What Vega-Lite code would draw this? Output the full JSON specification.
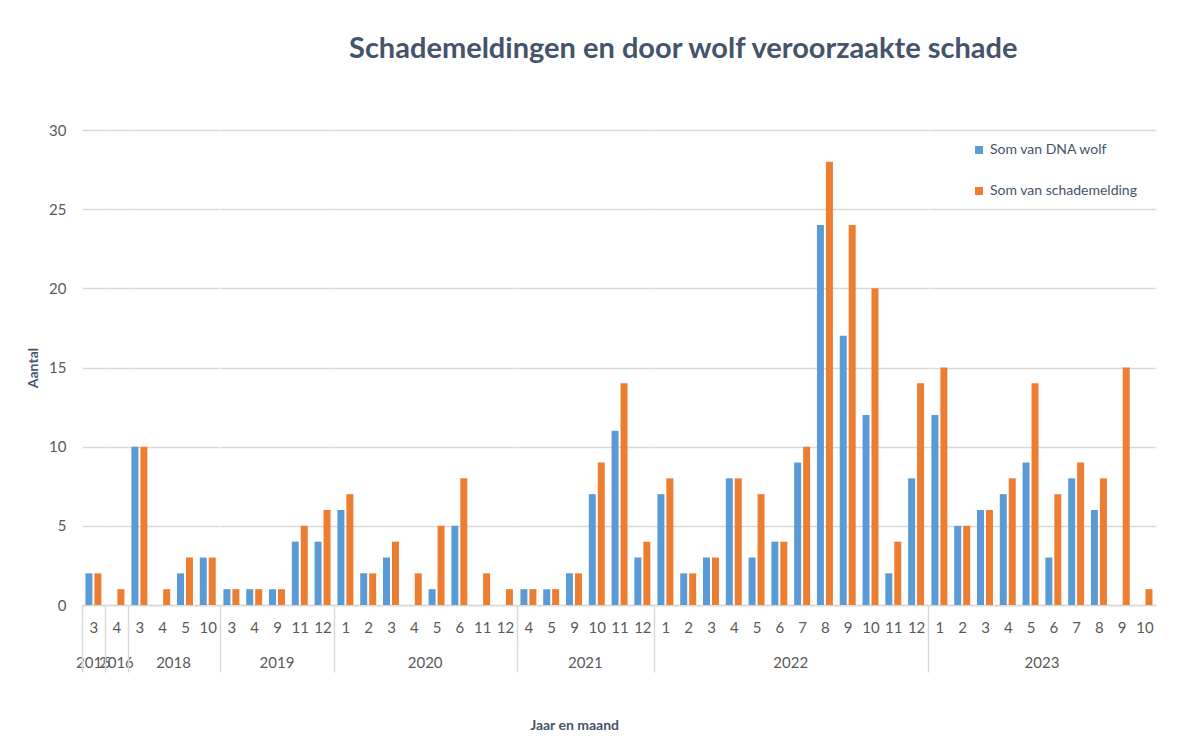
{
  "$schema": "https://vega.github.io/schema/vega-lite/v6.json",
  "background": "white",
  "padding": {"left": 26, "top": 35, "right": 10, "bottom": 0},
  "bounds": "flush",
  "title": {
    "text": "Schademeldingen en door wolf veroorzaakte schade",
    "font": "Lato",
    "fontSize": 29,
    "fontWeight": "bold",
    "color": "#44546A",
    "anchor": "middle",
    "dx": 92,
    "offset": 59
  },
  "data": {
    "values": [
      {"year": "2015", "month": 3, "dna": 2, "schade": 2},
      {"year": "2016", "month": 4, "dna": 0, "schade": 1},
      {"year": "2018", "month": 3, "dna": 10, "schade": 10},
      {"year": "2018", "month": 4, "dna": 0, "schade": 1},
      {"year": "2018", "month": 5, "dna": 2, "schade": 3},
      {"year": "2018", "month": 10, "dna": 3, "schade": 3},
      {"year": "2019", "month": 3, "dna": 1, "schade": 1},
      {"year": "2019", "month": 4, "dna": 1, "schade": 1},
      {"year": "2019", "month": 9, "dna": 1, "schade": 1},
      {"year": "2019", "month": 11, "dna": 4, "schade": 5},
      {"year": "2019", "month": 12, "dna": 4, "schade": 6},
      {"year": "2020", "month": 1, "dna": 6, "schade": 7},
      {"year": "2020", "month": 2, "dna": 2, "schade": 2},
      {"year": "2020", "month": 3, "dna": 3, "schade": 4},
      {"year": "2020", "month": 4, "dna": 0, "schade": 2},
      {"year": "2020", "month": 5, "dna": 1, "schade": 5},
      {"year": "2020", "month": 6, "dna": 5, "schade": 8},
      {"year": "2020", "month": 11, "dna": 0, "schade": 2},
      {"year": "2020", "month": 12, "dna": 0, "schade": 1},
      {"year": "2021", "month": 4, "dna": 1, "schade": 1},
      {"year": "2021", "month": 5, "dna": 1, "schade": 1},
      {"year": "2021", "month": 9, "dna": 2, "schade": 2},
      {"year": "2021", "month": 10, "dna": 7, "schade": 9},
      {"year": "2021", "month": 11, "dna": 11, "schade": 14},
      {"year": "2021", "month": 12, "dna": 3, "schade": 4},
      {"year": "2022", "month": 1, "dna": 7, "schade": 8},
      {"year": "2022", "month": 2, "dna": 2, "schade": 2},
      {"year": "2022", "month": 3, "dna": 3, "schade": 3},
      {"year": "2022", "month": 4, "dna": 8, "schade": 8},
      {"year": "2022", "month": 5, "dna": 3, "schade": 7},
      {"year": "2022", "month": 6, "dna": 4, "schade": 4},
      {"year": "2022", "month": 7, "dna": 9, "schade": 10},
      {"year": "2022", "month": 8, "dna": 24, "schade": 28},
      {"year": "2022", "month": 9, "dna": 17, "schade": 24},
      {"year": "2022", "month": 10, "dna": 12, "schade": 20},
      {"year": "2022", "month": 11, "dna": 2, "schade": 4},
      {"year": "2022", "month": 12, "dna": 8, "schade": 14},
      {"year": "2023", "month": 1, "dna": 12, "schade": 15},
      {"year": "2023", "month": 2, "dna": 5, "schade": 5},
      {"year": "2023", "month": 3, "dna": 6, "schade": 6},
      {"year": "2023", "month": 4, "dna": 7, "schade": 8},
      {"year": "2023", "month": 5, "dna": 9, "schade": 14},
      {"year": "2023", "month": 6, "dna": 3, "schade": 7},
      {"year": "2023", "month": 7, "dna": 8, "schade": 9},
      {"year": "2023", "month": 8, "dna": 6, "schade": 8},
      {"year": "2023", "month": 9, "dna": 0, "schade": 15},
      {"year": "2023", "month": 10, "dna": 0, "schade": 1}
    ]
  },
  "transform": [{"fold": ["dna", "schade"], "as": ["series", "value"]}],
  "spacing": 0,
  "resolve": {"scale": {"x": "independent", "xOffset": "independent"}},
  "facet": {
    "column": {
      "field": "year",
      "type": "ordinal",
      "title": "Jaar en maand",
      "header": {
        "labelOrient": "bottom",
        "labelFont": "Lato",
        "labelFontSize": 15,
        "labelColor": "#595959",
        "labelPadding": 51,
        "titleOrient": "bottom",
        "titleFont": "Lato",
        "titleFontSize": 14,
        "titleFontWeight": "bold",
        "titleColor": "#44546A",
        "titleAlign": "right",
        "titlePadding": 38
      }
    }
  },
  "spec": {
    "width": {"step": 22.79, "for": "position"},
    "height": 475,
    "view": {"stroke": null},
    "mark": {"type": "bar"},
    "encoding": {
      "x": {
        "field": "month",
        "type": "ordinal",
        "scale": {"paddingInner": 0.3, "paddingOuter": 0.15},
        "axis": {
          "title": null,
          "labelAngle": 0,
          "labelFont": "Lato",
          "labelFontSize": 15,
          "labelColor": "#595959",
          "labelPadding": -52,
          "labelBaseline": "top",
          "labelOffset": 3.42,
          "domainColor": "#d9d9d9",
          "domainWidth": 1.5,
          "bandPosition": 0,
          "tickOffset": -3.42,
          "tickSize": 67,
          "tickWidth": 1.5,
          "tickColor": "#d9d9d9",
          "tickOpacity": {"condition": {"test": "datum.index === 0", "value": 1}, "value": 0}
        }
      },
      "xOffset": {"field": "series", "type": "nominal", "scale": {"paddingInner": 0.22}},
      "y": {
        "field": "value",
        "type": "quantitative",
        "scale": {"domain": [0, 30]},
        "axis": {
          "title": "Aantal",
          "values": [0, 5, 10, 15, 20, 25, 30],
          "domain": false,
          "ticks": false,
          "labelPadding": 16,
          "labelFont": "Lato",
          "labelFontSize": 15,
          "labelColor": "#595959",
          "gridColor": "#d9d9d9",
          "gridWidth": 1.5,
          "titleFont": "Lato",
          "titleFontSize": 14,
          "titleFontWeight": "bold",
          "titleColor": "#44546A",
          "titlePadding": 8
        }
      },
      "color": {
        "field": "series",
        "type": "nominal",
        "scale": {"domain": ["dna", "schade"], "range": ["#5B9BD5", "#ED7D31"]},
        "legend": {
          "title": null,
          "orient": "none",
          "legendX": 890,
          "legendY": 13,
          "symbolType": "square",
          "symbolSize": 64,
          "symbolStrokeWidth": 0,
          "labelFont": "Lato",
          "labelFontSize": 14,
          "labelColor": "#44546A",
          "rowPadding": 27,
          "labelExpr": "datum.label == 'dna' ? 'Som van DNA wolf' : 'Som van schademelding'"
        }
      }
    }
  }
}
